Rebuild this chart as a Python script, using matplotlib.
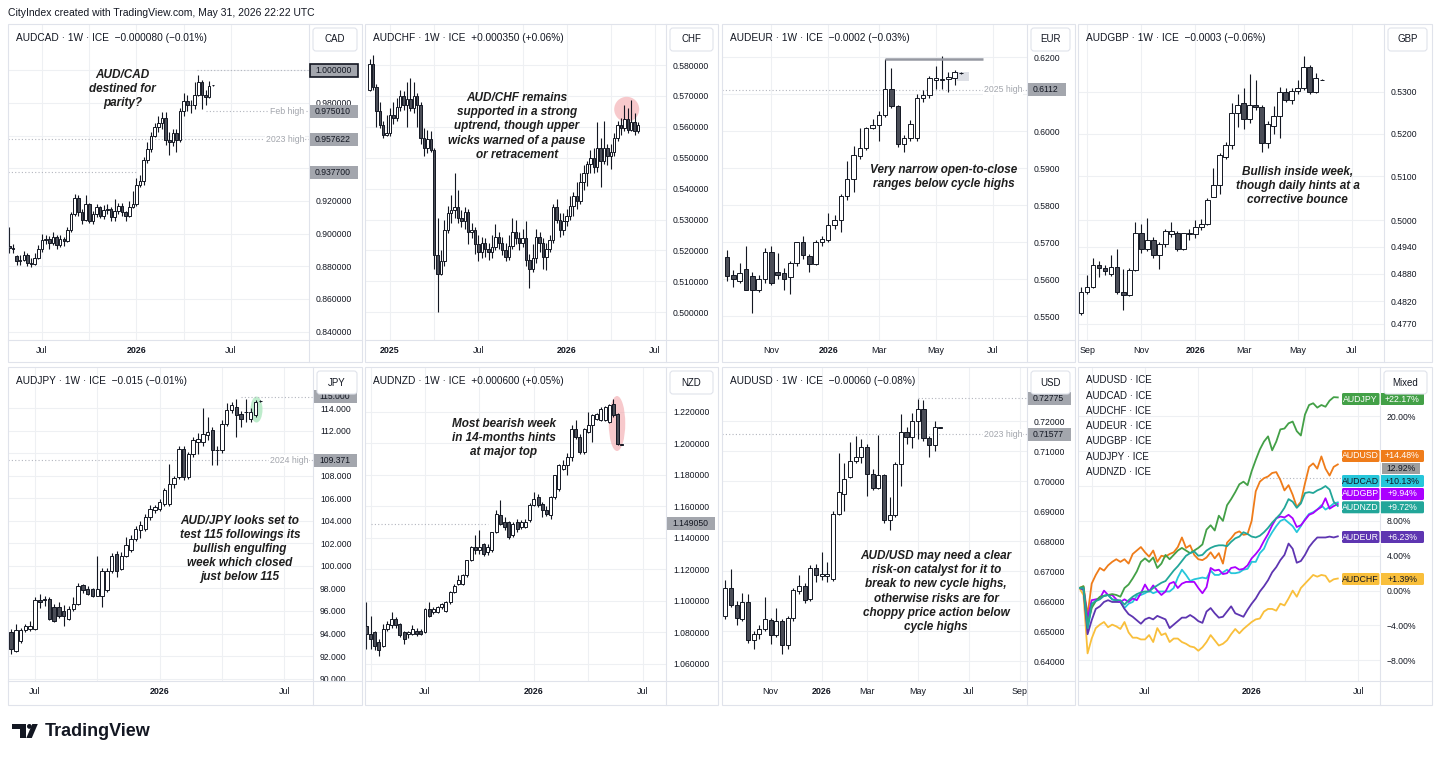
import numpy as np
import pandas as pd
import matplotlib
matplotlib.use("Agg")
import matplotlib.pyplot as plt
import matplotlib.dates as mdates
from matplotlib.transforms import Affine2D
from matplotlib.patches import Rectangle, FancyBboxPatch, Ellipse, Circle, Polygon
from matplotlib.lines import Line2D
from matplotlib.ticker import NullLocator, NullFormatter

W, H = 1440, 759
END = "2026-06-01"   # last (just opened) weekly bar

# ---------------- data: weekly OHLC, oldest first ----------------
audcad_o = [0.8925, 0.8915, 0.8865, 0.8835, 0.8840, 0.8870, 0.8820, 0.8815, 0.8850,
            0.8905, 0.8960, 0.8970, 0.8945, 0.8980, 0.8930, 0.8965, 0.8955, 0.9020, 0.9120,
            0.9220, 0.9130, 0.9085, 0.9180, 0.9075, 0.9120, 0.9160, 0.9105, 0.9145, 0.9150,
            0.9100, 0.9140, 0.9170, 0.9135, 0.9105, 0.9165, 0.9180, 0.9300, 0.9320, 0.9450,
            0.9520, 0.9600, 0.9650, 0.9680, 0.9710, 0.9570, 0.9560, 0.9615, 0.9575, 0.9750,
            0.9810, 0.9785, 0.9790, 0.9850, 0.9930, 0.9850, 0.9835, 0.9907]
audcad_h = [0.9040, 0.8935, 0.8870, 0.8870, 0.8895, 0.8880, 0.8850, 0.8880, 0.8930,
            0.8995, 0.8990, 0.8985, 0.9010, 0.8990, 0.8990, 0.8980, 0.9040, 0.9135, 0.9240,
            0.9235, 0.9150, 0.9235, 0.9190, 0.9140, 0.9180, 0.9170, 0.9175, 0.9180, 0.9160,
            0.9215, 0.9190, 0.9190, 0.9140, 0.9200, 0.9260, 0.9340, 0.9360, 0.9470, 0.9560,
            0.9620, 0.9680, 0.9720, 0.9745, 0.9745, 0.9620, 0.9640, 0.9640, 0.9770, 0.9860,
            0.9850, 0.9820, 0.9930, 0.9970, 0.9940, 0.9880, 0.9935, 0.9910]
audcad_l = [0.8880, 0.8880, 0.8810, 0.8810, 0.8830, 0.8800, 0.8795, 0.8805, 0.8845,
            0.8890, 0.8935, 0.8905, 0.8930, 0.8905, 0.8920, 0.8925, 0.8950, 0.9010, 0.9110,
            0.9110, 0.9060, 0.9075, 0.9065, 0.9060, 0.9100, 0.9095, 0.9090, 0.9120, 0.9075,
            0.9080, 0.9120, 0.9110, 0.9075, 0.9100, 0.9155, 0.9170, 0.9285, 0.9300, 0.9430,
            0.9500, 0.9590, 0.9625, 0.9640, 0.9545, 0.9480, 0.9535, 0.9500, 0.9560, 0.9720,
            0.9750, 0.9740, 0.9765, 0.9840, 0.9760, 0.9790, 0.9830, 0.9906]
audcad_c = [0.8915, 0.8905, 0.8835, 0.8840, 0.8870, 0.8820, 0.8815, 0.8850, 0.8905,
            0.8960, 0.8970, 0.8945, 0.8980, 0.8930, 0.8965, 0.8955, 0.9020, 0.9120, 0.9220,
            0.9130, 0.9085, 0.9180, 0.9075, 0.9120, 0.9160, 0.9105, 0.9145, 0.9150, 0.9100,
            0.9140, 0.9170, 0.9135, 0.9105, 0.9165, 0.9180, 0.9300, 0.9320, 0.9450, 0.9520,
            0.9600, 0.9650, 0.9680, 0.9710, 0.9570, 0.9560, 0.9615, 0.9575, 0.9750, 0.9810,
            0.9785, 0.9790, 0.9850, 0.9930, 0.9850, 0.9835, 0.9905, 0.9909]

audchf_o = [.5720, .5805, .5730, .5650, .5605, .5575, .5580, .5640, .5630, .5665,
            .5700, .5670, .5690, .5660, .5700, .5670, .5565, .5530, .5560, .5525,
            .5185, .5125, .5165, .5265, .5320, .5330, .5340, .5305, .5295, .5325,
            .5260, .5265, .5220, .5195, .5225, .5205, .5195, .5210, .5245, .5225,
            .5200, .5180, .5215, .5260, .5240, .5225, .5240, .5170, .5140, .5175,
            .5245, .5225, .5180, .5205, .5235, .5340, .5300, .5265, .5295, .5310,
            .5345, .5375, .5360, .5420, .5450, .5480, .5500, .5470, .5530, .5490,
            .5530, .5505, .5520, .5565, .5605, .5595, .5625, .5590, .5615, .5585]
audchf_h = [.5820, .5832, .5740, .5680, .5620, .5640, .5660, .5680, .5695, .5720,
            .5715, .5745, .5757, .5745, .5710, .5680, .5595, .5590, .5585, .5530,
            .5305, .5200, .5300, .5345, .5380, .5450, .5395, .5330, .5340, .5335,
            .5290, .5275, .5250, .5245, .5240, .5225, .5250, .5285, .5260, .5245,
            .5225, .5250, .5305, .5300, .5260, .5270, .5295, .5190, .5220, .5270,
            .5260, .5240, .5225, .5250, .5350, .5365, .5320, .5320, .5335, .5375,
            .5390, .5420, .5450, .5475, .5490, .5525, .5530, .5615, .5565, .5620,
            .5545, .5545, .5580, .5620, .5630, .5670, .5660, .5686, .5645, .5615]
audchf_l = [.5715, .5720, .5600, .5595, .5565, .5570, .5570, .5610, .5620, .5650,
            .5655, .5600, .5650, .5645, .5600, .5545, .5505, .5515, .5520, .5140,
            .5000, .5120, .5150, .5255, .5290, .5305, .5290, .5275, .5270, .5220,
            .5240, .5190, .5165, .5175, .5180, .5170, .5175, .5200, .5205, .5185,
            .5165, .5170, .5205, .5220, .5200, .5210, .5150, .5078, .5130, .5160,
            .5195, .5140, .5135, .5195, .5225, .5290, .5245, .5250, .5280, .5300,
            .5310, .5335, .5350, .5395, .5410, .5450, .5450, .5455, .5405, .5480,
            .5475, .5465, .5505, .5555, .5575, .5585, .5580, .5585, .5575, .5580]
audchf_c = [.5805, .5730, .5650, .5605, .5575, .5580, .5640, .5630, .5665, .5700,
            .5670, .5690, .5660, .5700, .5670, .5565, .5530, .5560, .5525, .5185,
            .5125, .5165, .5265, .5320, .5330, .5340, .5305, .5295, .5325, .5260,
            .5265, .5220, .5195, .5225, .5205, .5195, .5210, .5245, .5225, .5200,
            .5180, .5215, .5260, .5240, .5225, .5240, .5170, .5140, .5175, .5245,
            .5225, .5180, .5205, .5235, .5340, .5300, .5265, .5295, .5310, .5345,
            .5375, .5360, .5420, .5450, .5480, .5500, .5470, .5530, .5490, .5530,
            .5505, .5520, .5565, .5605, .5595, .5625, .5590, .5615, .5585, .5605]

audeur_o = [.5660, .5613, .5595, .5629, .5610, .5572, .5600, .5675, .5620, .5618,
            .5605, .5643, .5700, .5663, .5642, .5700, .5705, .5746, .5760, .5825,
            .5870, .5933, .5956, .6010, .6018, .6045, .6113, .6068, .5967, .5983,
            .5983, .6090, .6097, .6138, .6140, .6142, .6144, .6157]
audeur_h = [.5678, .5625, .5643, .5690, .5620, .5612, .5685, .5690, .5670, .5630,
            .5650, .5702, .5716, .5668, .5705, .5718, .5780, .5775, .5830, .5920,
            .5960, .6010, .6012, .6034, .6055, .6196, .6170, .6070, .5990, .6030,
            .6100, .6112, .6150, .6176, .6203, .6160, .6165, .6159]
audeur_l = [.5595, .5580, .5590, .5570, .5510, .5565, .5590, .5585, .5600, .5570,
            .5560, .5635, .5655, .5620, .5640, .5690, .5700, .5735, .5727, .5815,
            .5835, .5925, .5950, .6005, .5975, .6040, .6062, .5958, .5945, .5975,
            .5975, .6080, .6090, .6115, .6115, .6106, .6125, .6156]
audeur_c = [.5610, .5602, .5617, .5570, .5572, .5600, .5673, .5590, .5612, .5600,
            .5645, .5700, .5665, .5642, .5700, .5710, .5746, .5760, .5825, .5872,
            .5935, .5956, .6010, .6018, .6045, .6113, .6068, .5965, .5983, .6020,
            .6090, .6097, .6144, .6144, .6141, .6148, .6159, .6158]

audgbp_o = [.4793, .4840, .4851, .4899, .4892, .4880, .4894, .4840, .4833, .4888,
            .4970, .4936, .4956, .4921, .4947, .4968, .4970, .4936, .4968, .4968,
            .4984, .4991, .5053, .5080, .5146, .5173, .5248, .5272, .5234, .5268,
            .5263, .5179, .5219, .5242, .5300, .5280, .5302, .5310, .5359, .5300,
            .5329]
audgbp_h = [.4851, .4877, .4914, .4909, .4900, .4921, .4934, .4890, .4892, .4995,
            .4991, .5004, .4962, .4950, .4980, .4995, .4975, .4972, .4981, .5000,
            .5002, .5050, .5119, .5155, .5180, .5272, .5294, .5308, .5343, .5327,
            .5268, .5230, .5265, .5312, .5310, .5310, .5328, .5386, .5364, .5344,
            .5330]
audgbp_l = [.4790, .4836, .4848, .4873, .4878, .4875, .4835, .4800, .4830, .4885,
            .4925, .4930, .4915, .4890, .4940, .4962, .4930, .4933, .4955, .4960,
            .4978, .4988, .5053, .5060, .5140, .5165, .5216, .5212, .5225, .5255,
            .5156, .5167, .5200, .5189, .5275, .5270, .5295, .5305, .5295, .5298,
            .5327]
audgbp_c = [.4840, .4851, .4899, .4892, .4885, .4894, .4840, .4833, .4888, .4970,
            .4936, .4956, .4921, .4947, .4976, .4976, .4936, .4970, .4970, .4984,
            .4991, .5047, .5080, .5150, .5173, .5248, .5268, .5234, .5268, .5263,
            .5179, .5222, .5242, .5300, .5280, .5302, .5310, .5359, .5300, .5332,
            .5328]

audjpy_o = [94.12, 92.49, 93.38, 94.27, 94.41, 94.41, 97.01, 97.01, 97.07, 96.33,
            96.33, 96.04, 95.30, 96.18, 96.63, 98.32, 97.96, 97.91, 97.37, 97.37,
            97.82, 99.59, 101.07, 99.74, 100.92, 101.37, 102.40, 103.14, 103.29, 104.33,
            104.92, 105.07, 105.51, 105.51, 107.28, 107.88, 110.39, 107.88, 109.95, 110.98,
            110.98, 111.57, 112.02, 110.24, 110.24, 112.61, 113.79, 114.09, 113.50, 113.64,
            113.05, 113.35, 114.60]
audjpy_h = [94.40, 94.86, 94.50, 94.86, 95.10, 97.20, 97.51, 97.30, 97.20, 96.60,
            96.80, 96.50, 96.40, 97.22, 98.50, 98.40, 98.20, 98.00, 100.92, 99.80,
            99.80, 101.10, 101.30, 101.20, 102.55, 102.70, 103.50, 104.00, 104.60, 105.40,
            105.40, 105.90, 106.90, 109.06, 108.00, 110.60, 110.60, 110.10, 111.40, 111.80,
            114.03, 113.20, 112.30, 110.60, 112.90, 114.47, 114.50, 114.83, 113.70, 114.83,
            114.00, 114.68, 114.70]
audjpy_l = [92.20, 92.40, 93.20, 94.10, 94.20, 94.30, 96.30, 96.40, 95.20, 95.00,
            95.40, 94.71, 95.20, 96.00, 96.50, 97.60, 97.40, 97.20, 97.30, 96.33,
            97.70, 99.40, 99.00, 99.60, 100.80, 101.20, 102.20, 102.50, 103.10, 104.10,
            104.70, 104.90, 105.30, 105.30, 106.90, 107.70, 107.60, 107.70, 109.70, 109.95,
            110.60, 111.20, 108.91, 108.91, 110.00, 112.40, 113.60, 111.43, 112.31, 112.80,
            112.76, 113.20, 114.55]
audjpy_c = [92.64, 94.27, 94.27, 94.71, 94.71, 97.01, 96.78, 97.07, 95.30, 95.15,
            95.59, 95.59, 96.18, 96.63, 98.26, 97.82, 97.51, 97.37, 97.91, 99.59,
            99.59, 100.92, 99.59, 100.92, 101.81, 102.40, 103.29, 103.64, 104.33, 105.07,
            105.21, 105.66, 106.69, 107.28, 107.79, 110.39, 107.88, 109.95, 111.13, 111.22,
            111.72, 111.87, 110.24, 110.24, 112.61, 113.79, 114.24, 113.35, 113.05, 113.64,
            113.64, 114.53, 114.62]

audnzd_o = [1.0842, 1.0790, 1.0800, 1.0737, 1.0715, 1.0821, 1.0843, 1.0885, 1.0853, 1.0800,
            1.0790, 1.0790, 1.0811, 1.0811, 1.0800, 1.0949, 1.0927, 1.0927, 1.0959, 1.0938,
            1.0991, 1.1055, 1.1108, 1.1108, 1.1161, 1.1256, 1.1341, 1.1320, 1.1362, 1.1309,
            1.1320, 1.1436, 1.1543, 1.1500, 1.1500, 1.1415, 1.1500, 1.1468, 1.1468, 1.1511,
            1.1606, 1.1659, 1.1617, 1.1574, 1.1543, 1.1659, 1.1712, 1.1839, 1.1861, 1.1914,
            1.2094, 1.2041, 1.1945, 1.2073, 1.2115, 1.2158, 1.2147, 1.2147, 1.2136, 1.2253,
            1.2189, 1.1992]
audnzd_h = [1.0995, 1.0906, 1.0811, 1.0758, 1.0853, 1.0874, 1.0927, 1.0900, 1.0860, 1.0805,
            1.0810, 1.0843, 1.0830, 1.0820, 1.0955, 1.0995, 1.0960, 1.0965, 1.0985, 1.1000,
            1.1060, 1.1105, 1.1161, 1.1171, 1.1260, 1.1350, 1.1415, 1.1447, 1.1370, 1.1360,
            1.1440, 1.1580, 1.1638, 1.1530, 1.1510, 1.1500, 1.1520, 1.1515, 1.1520, 1.1620,
            1.1690, 1.1680, 1.1625, 1.1600, 1.1665, 1.1800, 1.1870, 1.1892, 1.1940, 1.2120,
            1.2147, 1.2060, 1.2100, 1.2200, 1.2190, 1.2195, 1.2232, 1.2240, 1.2250, 1.2285,
            1.2195, 1.1998]
audnzd_l = [1.0694, 1.0694, 1.0684, 1.0652, 1.0705, 1.0811, 1.0830, 1.0830, 1.0770, 1.0726,
            1.0765, 1.0780, 1.0775, 1.0780, 1.0795, 1.0900, 1.0915, 1.0920, 1.0950, 1.0930,
            1.0980, 1.1050, 1.1100, 1.1100, 1.1150, 1.1250, 1.1300, 1.1295, 1.1285, 1.1290,
            1.1310, 1.1430, 1.1480, 1.1450, 1.1395, 1.1405, 1.1440, 1.1455, 1.1460, 1.1500,
            1.1600, 1.1595, 1.1532, 1.1540, 1.1520, 1.1650, 1.1700, 1.1830, 1.1800, 1.1890,
            1.2030, 1.1935, 1.1935, 1.2065, 1.2009, 1.2150, 1.2140, 1.2140, 1.2130, 1.2170,
            1.1992, 1.1988]
audnzd_c = [1.0790, 1.0758, 1.0715, 1.0684, 1.0821, 1.0853, 1.0885, 1.0843, 1.0780, 1.0758,
            1.0800, 1.0821, 1.0790, 1.0790, 1.0949, 1.0906, 1.0949, 1.0959, 1.0980, 1.0991,
            1.1055, 1.1097, 1.1129, 1.1161, 1.1256, 1.1341, 1.1320, 1.1341, 1.1299, 1.1341,
            1.1436, 1.1553, 1.1490, 1.1468, 1.1405, 1.1490, 1.1458, 1.1500, 1.1500, 1.1606,
            1.1649, 1.1606, 1.1574, 1.1553, 1.1659, 1.1797, 1.1861, 1.1861, 1.1914, 1.2094,
            1.2041, 1.1945, 1.2094, 1.2115, 1.2179, 1.2189, 1.2221, 1.2232, 1.2242, 1.2179,
            1.1999, 1.1995]

audusd_o = [0.6551, 0.6644, 0.6589, 0.6542, 0.6598, 0.6470, 0.6492, 0.6509, 0.6537, 0.6489,
            0.6533, 0.6453, 0.6544, 0.6633, 0.6650, 0.6607, 0.6711, 0.6684, 0.6684, 0.6676,
            0.6892, 0.6959, 0.7015, 0.7067, 0.7081, 0.7114, 0.7026, 0.6978, 0.7020, 0.6870,
            0.6887, 0.7059, 0.7164, 0.7148, 0.7200, 0.7242, 0.7144, 0.7122, 0.7179]
audusd_h = [0.6670, 0.6707, 0.6600, 0.6629, 0.6626, 0.6500, 0.6520, 0.6614, 0.6545, 0.6578,
            0.6540, 0.6550, 0.6645, 0.6687, 0.6660, 0.6720, 0.6726, 0.6764, 0.6731, 0.6900,
            0.7093, 0.7060, 0.7130, 0.7150, 0.7140, 0.7125, 0.7040, 0.7153, 0.7025, 0.6948,
            0.7065, 0.7225, 0.7181, 0.7229, 0.7276, 0.7270, 0.7150, 0.7200, 0.7181]
audusd_l = [0.6540, 0.6580, 0.6520, 0.6535, 0.6460, 0.6440, 0.6476, 0.6500, 0.6459, 0.6480,
            0.6426, 0.6440, 0.6535, 0.6625, 0.6595, 0.6600, 0.6665, 0.6670, 0.6665, 0.6668,
            0.6887, 0.6900, 0.7010, 0.7060, 0.7060, 0.6950, 0.6970, 0.6975, 0.6860, 0.6837,
            0.6880, 0.6985, 0.7125, 0.7110, 0.7140, 0.7135, 0.7080, 0.7100, 0.7177]
audusd_c = [0.6644, 0.6589, 0.6544, 0.6598, 0.6470, 0.6492, 0.6509, 0.6540, 0.6489, 0.6533,
            0.6453, 0.6544, 0.6637, 0.6650, 0.6603, 0.6711, 0.6687, 0.6692, 0.6690, 0.6892,
            0.6964, 0.7009, 0.7067, 0.7081, 0.7114, 0.7026, 0.6978, 0.7020, 0.6870, 0.6887,
            0.7059, 0.7164, 0.7148, 0.7200, 0.7242, 0.7144, 0.7122, 0.7181, 0.7180]

# comparison panel: % change since the first bar
mix_usd = [0.3, 0.5, -2.8, 0.8, 1.8, 2.6, 2.3, 2.9, 3.3, 3.6,
           3.3, 3.6, 3.1, 4.2, 4.6, 5.0, 4.4, 3.9, 4.6, 3.3,
           4.0, 3.9, 4.2, 4.4, 5.0, 6.1, 4.9, 5.2, 4.1, 3.6,
           3.5, 3.8, 4.4, 3.7, 4.3, 3.1, 5.5, 6.0, 6.6, 6.8,
           6.4, 6.5, 8.0, 11.4, 12.5, 12.9, 13.1, 13.5, 13.6, 12.7,
           11.5, 12.1, 11.0, 9.6, 10.2, 12.3, 14.2, 14.6, 14.0, 15.4,
           14.0, 13.2, 14.2, 14.48]
mix_cad = [0.3, 0.3, -4.5, -1.8, -1.1, -0.8, -0.6, -0.5, -1.0, -1.2,
           -1.3, -2.0, -1.5, -1.3, -0.6, -0.5, -0.3, 0.0, -0.3, -0.1,
           -0.1, -0.1, -0.1, 0.3, 1.5, 2.4, 1.8, 1.1, 1.3, 1.4,
           1.5, 1.4, 2.3, 1.8, 1.8, 2.1, 2.4, 2.0, 2.0, 2.1,
           2.4, 2.5, 3.3, 3.3, 4.3, 4.8, 5.9, 6.7, 7.4, 8.0,
           8.2, 7.8, 7.4, 6.7, 7.4, 8.2, 8.8, 9.0, 9.3, 9.8,
           9.3, 9.6, 10.0, 10.13]
mix_chf = [0.3, -0.5, -7.2, -5.5, -4.3, -3.9, -3.6, -4.2, -3.9, -4.1,
           -4.4, -3.6, -4.8, -5.4, -5.4, -5.6, -5.6, -5.1, -5.9, -4.3,
           -5.1, -4.9, -5.9, -5.5, -5.5, -5.9, -6.1, -6.4, -6.5, -6.9,
           -6.5, -5.9, -5.1, -5.7, -6.3, -6.1, -5.7, -5.0, -4.4, -4.9,
           -4.4, -4.0, -3.6, -3.3, -3.2, -2.4, -2.1, -2.1, -2.3, -1.5,
           -1.7, -0.9, 0.0, -0.7, 0.3, 0.8, 1.3, 1.8, 1.6, 1.8,
           1.7, 1.0, 1.3, 1.39]
mix_eur = [0.3, 0.1, -5.0, -3.4, -2.1, -1.8, -1.3, -1.1, -1.3, -1.3,
           -1.3, -2.1, -2.7, -3.0, -3.4, -3.8, -3.3, -3.1, -3.3, -2.9,
           -3.1, -3.3, -4.3, -3.9, -3.5, -3.1, -3.1, -2.8, -3.1, -3.5,
           -3.7, -2.4, -2.0, -2.6, -3.1, -3.0, -2.4, -1.8, -2.6, -2.8,
           -3.0, -2.2, -1.5, -0.9, -0.1, 0.5, 1.2, 2.1, 2.7, 3.5,
           4.1, 5.4, 4.8, 3.2, 3.4, 4.1, 5.0, 5.6, 6.1, 6.1,
           6.1, 6.2, 6.1, 6.23]
mix_gbp = [0.3, 0.3, -3.2, -1.1, -1.0, -0.9, 0.0, -0.5, -0.5, -1.0,
           -1.3, -1.0, -1.3, -0.9, -1.1, -0.3, 0.7, -0.1, 0.6, 0.0,
           -0.5, -0.1, 0.8, 1.0, 0.3, 0.8, 1.0, 1.0, 1.0, 0.3,
           -0.3, 0.4, 2.6, 2.3, 2.4, 1.9, 2.0, 2.6, 2.7, 2.4,
           2.5, 2.9, 3.7, 4.2, 4.8, 5.7, 6.5, 7.5, 8.3, 8.5,
           8.4, 8.7, 8.3, 7.3, 7.5, 8.1, 8.7, 8.9, 9.3, 9.6,
           10.6, 9.4, 9.7, 9.94]
mix_jpy = [0.3, 0.5, -3.9, -2.0, -1.2, -0.7, -0.6, -0.5, -0.4, -0.5,
           -0.7, 0.3, 0.7, 1.4, 2.2, 3.3, 3.7, 3.3, 3.8, 2.6,
           3.1, 4.1, 3.6, 4.1, 4.6, 4.9, 4.6, 4.3, 4.6, 4.9,
           5.3, 7.0, 7.5, 6.9, 8.6, 8.0, 9.8, 10.5, 11.3, 12.2,
           12.5, 12.1, 13.7, 15.0, 16.2, 17.1, 17.7, 16.1, 17.1, 18.5,
           18.6, 19.2, 19.4, 18.3, 17.8, 20.2, 21.3, 21.5, 21.0, 21.3,
           21.1, 21.8, 22.2, 22.17]
mix_nzd = [0.3, 0.3, -4.3, -1.5, -1.2, -1.0, -0.6, -0.5, -1.0, -1.1,
           -1.1, -1.6, -1.1, -0.7, -0.4, -0.2, -0.1, -0.1, 0.3, 0.6,
           0.9, 1.1, 1.7, 2.3, 2.8, 3.4, 4.0, 4.3, 4.5, 4.0,
           4.1, 4.6, 4.9, 5.1, 5.2, 5.2, 5.1, 5.6, 6.0, 6.2,
           6.7, 6.5, 6.2, 6.1, 6.3, 6.7, 7.2, 7.8, 8.3, 8.8,
           9.5, 10.5, 10.2, 9.5, 10.0, 11.2, 11.3, 11.2, 11.5, 11.7,
           12.0, 11.6, 10.2, 9.72]
mix_marker = 12.92

# ---------------- styling ----------------
plt.rcParams["font.family"] = ["Liberation Sans", "DejaVu Sans"]
INK = "#131722"
GRID = "#eef0f3"
FRAME = "#e0e3eb"
DOWN = "#4a4d57"
TAG = "#a3a6ad"
NOTE = "#1e1e1e"

fig = plt.figure(figsize=(W / 100, H / 100), dpi=100)
fig.patch.set_facecolor("white")
# pixel coordinates, origin top-left
px = Affine2D().scale(1 / W, -1 / H).translate(0, 1) + fig.transFigure


def weeks(n):
    return mdates.date2num(pd.date_range(end=END, periods=n, freq="7D").to_pydatetime())


def dnum(s):
    return mdates.date2num(pd.Timestamp(s).to_pydatetime())


def panel(box, cur, title=None):
    x0, xs, x1, yt, ys, yb = box
    ax = fig.add_axes([x0 / W, 1 - ys / H, (xs - x0) / W, (ys - yt) / H])
    ax.set_facecolor("none")
    for s in ax.spines.values():
        s.set_visible(False)
    ax.yaxis.tick_right()
    ax.tick_params(axis="y", which="both", length=0, pad=5, labelsize=6.2, labelcolor=INK)
    ax.tick_params(axis="x", which="both", length=0, pad=4.3, labelsize=6.4, labelcolor=INK)
    ax.grid(True, which="both", color=GRID, lw=0.8)
    ax.set_axisbelow(True)
    fig.add_artist(Rectangle((x0, yt), x1 - x0, yb - yt, transform=px, fill=False, ec=FRAME, lw=0.8))
    fig.add_artist(Line2D([xs, xs], [yt, yb], transform=px, color=FRAME, lw=0.8))
    fig.add_artist(Line2D([x0, x1], [ys, ys], transform=px, color=FRAME, lw=0.8))
    fig.add_artist(FancyBboxPatch((xs + 4, yt + 4), x1 - xs - 9, 23, boxstyle="round,pad=0,rounding_size=3",
                                  transform=px, fc="white", ec=FRAME, lw=0.8, zorder=8))
    fig.text((xs + x1 - 1) / 2, yt + 15.5, cur, transform=px, ha="center", va="center",
             fontsize=7, color=INK, zorder=9)
    if title:
        fig.text(x0 + 8, yt + 14, title, transform=px, ha="left", va="center", fontsize=7.3, color=INK)
    ax.box = box
    return ax


def time_axis(ax, da, pa, db, pb, major, minor=()):
    x0, xs = ax.box[0], ax.box[1]
    ax.set_xticks([dnum(d) for d, _ in major], [t for _, t in major])
    for t in ax.get_xticklabels():
        if t.get_text().isdigit():
            t.set_fontweight("bold")
    ax.set_xticks([dnum(d) for d in minor], minor=True)
    # limits last, so the tick lists cannot widen the view
    a, b = dnum(da), dnum(db)
    k = (b - a) / (pb - pa)
    ax.set_xlim(a + (x0 - pa) * k, a + (xs - pa) * k)


def price_axis(ax, lim, ticks, fmt, log=False, labels=None, hide=()):
    if log:
        ax.set_yscale("log")
    if labels is None:
        labels = ["" if t in hide else fmt.format(t) for t in ticks]
    ax.set_yticks(ticks, labels)
    ax.yaxis.set_minor_locator(NullLocator())
    ax.yaxis.set_minor_formatter(NullFormatter())
    ax.set_ylim(*lim)


def candles(ax, o, h, l, c, width=5.0):
    x = weeks(len(c))
    o, h, l, c = map(np.asarray, (o, h, l, c))
    ax.vlines(x, l, h, color=INK, lw=0.8, zorder=2)
    colors = np.where(c >= o, "#ffffff", DOWN)
    ax.bar(x, np.abs(c - o), width=width, bottom=np.minimum(o, c), color=colors,
           edgecolor=INK, linewidth=0.7, zorder=3)


def ypix(ax, v):
    return H - ax.transData.transform((ax.get_xlim()[0], v))[1]


def tag(ax, v, text, fc=TAG, ec=None, lw=0.0):
    xs = ax.box[1]
    yc = ypix(ax, v)
    w = 5 * len(text) + 8
    fig.add_artist(Rectangle((xs + 1, yc - 6.5), w, 13, transform=px, fc=fc,
                             ec=ec if ec else fc, lw=lw, zorder=6))
    fig.text(xs + 6, yc, text, transform=px, ha="left", va="center", fontsize=6.2, color=INK, zorder=7)


def level(ax, v, start=None, end=None, label=None):
    lo, hi = ax.get_xlim()
    a = dnum(start) if start else lo
    b = dnum(end) if end else hi
    ax.hlines(v, a, b, colors="#b2b5be", linestyles=(0, (1, 2)), lw=0.8, zorder=1)
    if label:
        fig.text(ax.box[1] - 5, ypix(ax, v), label, transform=px, ha="right", va="center",
                 fontsize=6.3, color="#a3a6ad",
                 bbox=dict(fc="white", ec="none", pad=0.6))


def note(x, y, text):
    fig.text(x, y, text, transform=px, ha="center", va="center", fontsize=8.5,
             fontweight="bold", fontstyle="italic", color=NOTE, linespacing=1.24)


TOP = (24, 340, 362)
BOT = (367, 681, 705)
half_year = [("2025-07-07", "Jul"), ("2026-01-05", "2026"), ("2026-07-06", "Jul")]
quarters = ["2025-04-07", "2025-10-06", "2026-04-06"]

# ---------------- AUDCAD ----------------
ax = panel((8, 309, 362) + TOP, "CAD", "AUDCAD · 1W · ICE  −0.000080 (−0.01%)")
time_axis(ax, "2025-07-07", 42, "2026-07-06", 231, half_year, quarters)
price_axis(ax, (0.8349, 1.0283), [0.84, 0.86, 0.88, 0.90, 0.92, 0.94, 0.96, 0.98, 1.00], "{:.6f}",
           hide=(0.94, 0.96, 1.00))
candles(ax, audcad_o, audcad_h, audcad_l, audcad_c)
level(ax, 1.0, start="2026-05-01")
level(ax, 0.975010, start="2026-05-18", label="Feb high")
level(ax, 0.957622, label="2023 high")
level(ax, 0.937700, end="2026-01-06")
tag(ax, 0.937700, "0.937700")
tag(ax, 0.957622, "0.957622")
tag(ax, 0.975010, "0.975010")
tag(ax, 1.0, "1.000000", ec=INK, lw=1.2)
note(122.7, 88.7, "AUD/CAD\ndestined for\nparity?")

# ---------------- AUDCHF ----------------
ax = panel((365, 666, 718) + TOP, "CHF", "AUDCHF · 1W · ICE  +0.000350 (+0.06%)")
time_axis(ax, "2025-01-06", 390, "2026-01-05", 566.7,
          [("2025-01-06", "2025"), ("2025-07-07", "Jul"), ("2026-01-05", "2026"), ("2026-07-06", "Jul")],
          quarters)
price_axis(ax, (0.4910, 0.5933), [0.50, 0.51, 0.52, 0.53, 0.54, 0.55, 0.56, 0.57, 0.58], "{:.6f}")
candles(ax, audchf_o, audchf_h, audchf_l, audchf_c)
ax.add_artist(Ellipse((626.7, 109.3), 25, 25, transform=px, fc="#f3a6ab", alpha=0.6, ec="none", zorder=1))
note(516.7, 126.5, "AUD/CHF remains\nsupported in a strong\nuptrend, though upper\nwicks warned of a pause\nor retracement")

# ---------------- AUDEUR ----------------
bimonth = [("2025-11-03", "Nov"), ("2026-01-05", "2026"), ("2026-03-02", "Mar"),
           ("2026-05-04", "May"), ("2026-07-06", "Jul")]
ax = panel((722, 1027, 1075) + TOP, "EUR", "AUDEUR · 1W · ICE  −0.0002 (−0.03%)")
time_axis(ax, "2025-11-03", 771.3, "2026-07-06", 992.7, bimonth)
price_axis(ax, (0.5436, 0.6290), [0.55, 0.56, 0.57, 0.58, 0.59, 0.60, 0.61, 0.62], "{:.4f}",
           hide=(0.61,))
ax.add_patch(Rectangle((dnum("2026-05-27"), 0.6135), 14, 0.0025, fc="#d1d4dc", ec="none", alpha=0.7, zorder=1))
candles(ax, audeur_o, audeur_h, audeur_l, audeur_c)
ax.hlines(0.6196, dnum("2026-03-09"), dnum("2026-06-25"), colors="#9598a1", lw=1.8, zorder=4)
level(ax, 0.6112, label="2025 high")
tag(ax, 0.6112, "0.6112")
note(944, 176.7, "Very narrow open-to-close\nranges below cycle highs")

# ---------------- AUDGBP (log scale) ----------------
ax = panel((1078, 1384, 1432) + TOP, "GBP", "AUDGBP · 1W · ICE  −0.0003 (−0.06%)")
time_axis(ax, "2025-09-01", 1087.3, "2026-07-06", 1351.7, [("2025-09-01", "Sep")] + bimonth)
price_axis(ax, (0.47355, 0.54652), [0.4770, 0.4820, 0.4880, 0.4940, 0.5000, 0.5100, 0.5200, 0.5300],
           "{:.4f}", log=True)
candles(ax, audgbp_o, audgbp_h, audgbp_l, audgbp_c)
note(1297.7, 185.7, "Bullish inside week,\nthough daily hints at a\ncorrective bounce")

# ---------------- AUDJPY ----------------
ax = panel((8, 313, 362) + BOT, "JPY", "AUDJPY · 1W · ICE  −0.015 (−0.01%)")
time_axis(ax, "2025-07-07", 35, "2026-07-06", 284.3, half_year, quarters)
price_axis(ax, (89.79, 117.64), list(range(90, 115, 2)), "{:.3f}", hide=(110,))
ax.add_artist(Ellipse((256.5, 409.5), 12, 26, transform=px, fc="#a8e6bb", alpha=0.75, ec="none", zorder=1))
candles(ax, audjpy_o, audjpy_h, audjpy_l, audjpy_c)
level(ax, 115.0, start="2026-05-04")
level(ax, 109.371, label="2024 high")
tag(ax, 115.0, "115.000")
tag(ax, 109.371, "109.371")
note(240, 549, "AUD/JPY looks set to\ntest 115 followings its\nbullish engulfing\nweek which closed\njust below 115")

# ---------------- AUDNZD ----------------
ax = panel((365, 666, 718) + BOT, "NZD", "AUDNZD · 1W · ICE  +0.000600 (+0.05%)")
time_axis(ax, "2025-07-07", 425, "2026-07-06", 642.7, half_year, quarters)
price_axis(ax, (1.0490, 1.2486), [1.06, 1.08, 1.10, 1.12, 1.14, 1.16, 1.18, 1.20, 1.22], "{:.6f}")
ax.add_artist(Ellipse((617, 423.5), 16.5, 55, transform=px, fc="#f3a6ab", alpha=0.6, ec="none", zorder=1))
candles(ax, audnzd_o, audnzd_h, audnzd_l, audnzd_c)
level(ax, 1.149050, start="2025-04-07", end="2025-10-20")
tag(ax, 1.149050, "1.149050")
note(504, 437.7, "Most bearish week\nin 14-months hints\nat major top")

# ---------------- AUDUSD ----------------
ax = panel((722, 1027, 1075) + BOT, "USD", "AUDUSD · 1W · ICE  −0.00060 (−0.08%)")
time_axis(ax, "2025-11-03", 770.7, "2026-09-07", 1019.7, bimonth + [("2026-09-07", "Sep")])
price_axis(ax, (0.63344, 0.73811), [0.64, 0.65, 0.66, 0.67, 0.68, 0.69, 0.70, 0.71, 0.72], "{:.5f}")
candles(ax, audusd_o, audusd_h, audusd_l, audusd_c)
level(ax, 0.72775, start="2026-05-04")
level(ax, 0.71577, label="2023 high")
tag(ax, 0.72775, "0.72775")
tag(ax, 0.71577, "0.71577")
note(936.3, 591.5, "AUD/USD may need a clear\nrisk-on catalyst for it to\nbreak to new cycle highs,\n"
                   "otherwise risks are for\nchoppy price action below\ncycle highs")

# ---------------- Mixed comparison ----------------
ax = panel((1078, 1380, 1432) + BOT, "Mixed")
time_axis(ax, "2025-07-07", 1145, "2026-07-06", 1358.3, half_year, quarters)
pticks = [-8, -4, 0, 4, 8, 12, 16, 20]
plabels = [("" if t in (12, 16) else f"{t:.2f}%".replace("-", "−")) for t in pticks]
price_axis(ax, (-10.37, 25.66), pticks, None, labels=plabels)
series = [("AUDUSD", mix_usd, "#ef7c1a", "white"),
          ("AUDCAD", mix_cad, "#26c6da", INK),
          ("AUDCHF", mix_chf, "#f9bf3b", INK),
          ("AUDEUR", mix_eur, "#5e35b1", "white"),
          ("AUDGBP", mix_gbp, "#aa00ff", "white"),
          ("AUDJPY", mix_jpy, "#43a047", "white"),
          ("AUDNZD", mix_nzd, "#22a699", "white")]
xm = weeks(len(mix_jpy))
for name, vals, col, _ in series:
    ax.plot(xm, vals, color=col, lw=1.3, solid_joinstyle="round", zorder=3)
level(ax, mix_marker, start="2026-01-12")
for k, (name, vals, col, _) in enumerate(series):
    fig.text(1086, 380.3 + 15.3 * k, f"{name} · ICE", transform=px, ha="left", va="center",
             fontsize=7, color=INK)
# end-of-line labels (stacked so they do not overlap)
label_y = {"AUDJPY": 399, "AUDUSD": 456, "AUDCAD": 481, "AUDGBP": 494,
           "AUDNZD": 507.3, "AUDEUR": 537, "AUDCHF": 579}
for name, vals, col, tc in series:
    y = label_y[name]
    fig.add_artist(FancyBboxPatch((1342, y - 6), 37.5, 12, boxstyle="round,pad=0,rounding_size=1.5",
                                  transform=px, fc=col, ec="none", zorder=6))
    fig.add_artist(FancyBboxPatch((1380, y - 6), 44, 12, boxstyle="round,pad=0,rounding_size=1.5",
                                  transform=px, fc=col, ec="none", zorder=6))
    fig.add_artist(Line2D([1379.7, 1379.7], [y - 6, y + 6], transform=px, color="white", lw=0.6, zorder=7))
    fig.text(1360.7, y, name, transform=px, ha="center", va="center", fontsize=6.3, color=tc, zorder=7)
    fig.text(1402, y, f"{vals[-1]:+.2f}%", transform=px, ha="center", va="center", fontsize=6.3,
             color=tc, zorder=7)
fig.add_artist(Rectangle((1382, 463.3), 38, 10.5, transform=px, fc="#9e9e9e", ec="none", zorder=6))
fig.text(1401, 468.5, f"{mix_marker:.2f}%", transform=px, ha="center", va="center", fontsize=6.2,
         color=INK, zorder=7)

# ---------------- header / footer ----------------
fig.text(8, 13, "CityIndex created with TradingView.com, May 31, 2026 22:22 UTC", transform=px,
         ha="left", va="center", fontsize=7.5, color=INK)
logo = "#131722"
fig.add_artist(Rectangle((11.7, 724), 13.8, 5.2, transform=px, fc=logo, ec="none"))
fig.add_artist(Rectangle((19.5, 724), 6, 14, transform=px, fc=logo, ec="none"))
fig.add_artist(Circle((29.4, 726.4), 2.4, transform=px, fc=logo, ec="none"))
fig.add_artist(Polygon([(32.3, 724), (37.8, 724), (31.8, 738), (26.3, 738)], closed=True,
                       transform=px, fc=logo, ec="none"))
fig.text(44.5, 731.5, "TradingView", transform=px, ha="left", va="center", fontsize=13,
         fontweight="bold", color=logo)

fig.savefig("out.png", dpi=100, facecolor="white")
